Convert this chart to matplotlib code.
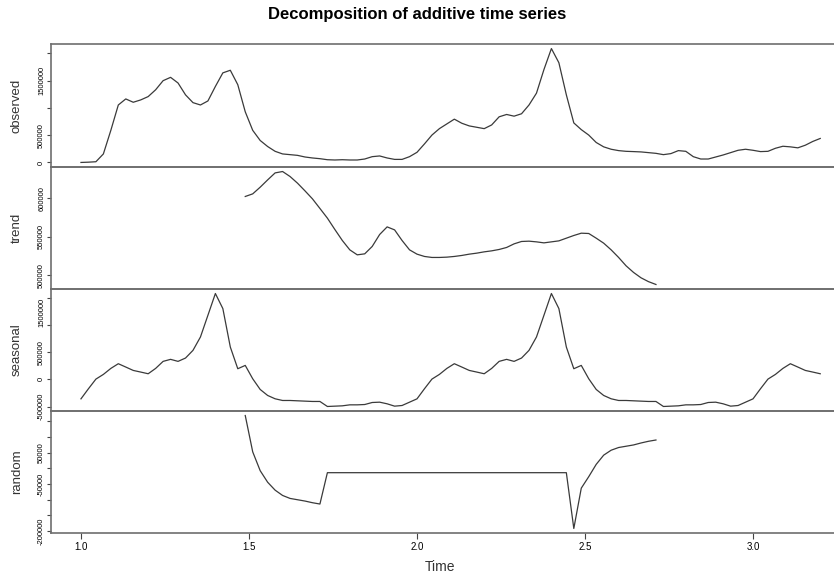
import numpy as np
import matplotlib
matplotlib.use('Agg')
import matplotlib.pyplot as plt

plt.rcParams['font.family'] = ['Liberation Sans', 'DejaVu Sans']

# ts settings: starts at 1.0, 45 obs per unit
start = 1.0
freq = 45
trend_start = 22

observed = [0, 5000, 13000, 156000, 589000, 1054000, 1165000, 1104000, 1147000, 1208000,
            1333000, 1500000, 1561000, 1457000, 1240000, 1097000, 1054000, 1128000, 1394000, 1643000,
            1691000, 1426000, 929000, 589000, 403000, 292000, 204000, 156000, 143000, 130000,
            100000, 82000, 69000, 50000, 45000, 50000, 45000, 45000, 63000, 106000,
            119000, 82000, 56000, 56000, 106000, 186000, 340000, 502000, 620000, 707000,
            794000, 719000, 670000, 645000, 620000, 688000, 837000, 880000, 849000, 893000,
            1054000, 1271000, 1704000, 2089000, 1829000, 1240000, 725000, 602000, 502000, 366000,
            286000, 242000, 217000, 204000, 199000, 193000, 180000, 167000, 143000, 162000,
            217000, 204000, 106000, 63000, 63000, 100000, 137000, 180000, 223000, 242000,
            223000, 199000, 204000, 260000, 297000, 286000, 268000, 316000, 385000, 440000]

trend = [602600, 606000, 614700, 624200, 633300, 635100, 628600, 619900, 609900, 599500,
         587000, 574400, 559600, 545300, 533100, 526600, 527900, 537500, 553100, 563000,
         559100, 545300, 533100, 527500, 524500, 523200, 523200, 523600, 524500, 525800,
         527500, 528800, 530500, 531800, 533600, 536200, 540900, 544000, 544400, 543500,
         542200, 543500, 544800, 548300, 551800, 554800, 554400, 548300, 541800, 533100,
         523200, 512300, 503700, 496700, 491700, 488000]

seasonal = [-356000, -171000, 6000, 92000, 202000, 288000, 227000, 165000, 135000, 104000,
            202000, 331000, 368000, 331000, 392000, 533000, 778000, 1176000, 1575000, 1299000,
            594000, 196000, 257000, 12000, -184000, -294000, -355000, -386000, -386000, -392000,
            -398000, -404000, -404000, -496000, -490000, -484000, -466000, -466000, -460000, -423000,
            -417000, -447000, -490000, -478000, -417000,
            -356000, -171000, 6000, 92000, 202000, 288000, 227000, 165000, 135000, 104000,
            202000, 331000, 368000, 331000, 392000, 533000, 778000, 1176000, 1575000, 1299000,
            594000, 196000, 257000, 12000, -184000, -294000, -355000, -386000, -386000, -392000,
            -398000, -404000, -404000, -496000, -490000, -484000, -466000, -466000, -460000, -423000,
            -417000, -447000, -490000, -478000, -417000,
            -356000, -171000, 6000, 92000, 202000, 288000, 227000, 165000, 135000, 104000]

random_part = [168700, 52600, -7500, -44400, -69700, -86600, -96100, -100300, -104500, -109800,
               -114000, -13900, -13900, -13900, -13900, -13900, -13900, -13900, -13900, -13900,
               -13900, -13900, -13900, -13900, -13900, -13900, -13900, -13900, -13900, -13900,
               -13900, -13900, -13900, -13900, -13900, -13900, -13900, -13900, -13900, -13900,
               -13900, -13900, -13900, -13900, -192100, -63300, -26600, 12700, 42100, 57900,
               66500, 70600, 74700, 81000, 86400, 90500]

panel_names = ['observed', 'trend', 'seasonal', 'random']
panel_ticks = [[0, 500000, 1000000, 1500000, 2000000],
               [500000, 550000, 600000],
               [-500000, 0, 500000, 1000000, 1500000],
               [-200000, -150000, -100000, -50000, 0, 50000, 100000, 150000]]
panel_ticklabels = [['0', '500000', '', '1500000', ''],
                    ['500000', '550000', '600000'],
                    ['-500000', '0', '500000', '', '1500000'],
                    ['-200000', '', '', '-50000', '', '50000', '', '']]
xticks = [1.0, 1.5, 2.0, 2.5, 3.0]
xticklabels = ['1.0', '1.5', '2.0', '2.5', '3.0']

times = start + np.arange(len(observed)) / freq
t_inner = times[trend_start:trend_start + len(trend)]
series = [(times, observed), (t_inner, trend), (times, seasonal), (t_inner, random_part)]

W, H = 834.0, 575.0
fig = plt.figure(figsize=(W / 100, H / 100), dpi=100)

# panel edges in pixels (top of first, then each bottom)
edges = [44, 167, 289, 411, 533]
left = 51.4 / W
width = (849.8 - 51.4) / W
xpad = 0.04 * (times[-1] - times[0])

line_col = '#3a3a3a'
frame_col = '#6e6e6e'

axes = []
for k in range(4):
    top, bot = edges[k], edges[k + 1]
    ax = fig.add_axes([left, 1 - bot / H, width, (bot - top) / H])
    x, y = series[k]
    ax.plot(x, y, color=line_col, lw=0.9)
    ax.set_xlim(times[0] - xpad, times[-1] + xpad)
    lo, hi = min(y), max(y)
    ax.set_ylim(lo - 0.04 * (hi - lo), hi + 0.04 * (hi - lo))
    ax.set_yticks(panel_ticks[k])
    ax.set_yticklabels(panel_ticklabels[k])
    for lab in ax.get_yticklabels():
        lab.set_rotation(90)
        lab.set_va('center')
    ax.tick_params(axis='y', length=3, width=0.8, color='#444444', labelsize=5.5, pad=1.5)
    for sp in ax.spines.values():
        sp.set_color(frame_col)
        sp.set_linewidth(1.2)
    ax.set_facecolor('none')
    fig.text(17 / W, 1 - (top + bot) / 2 / H, panel_names[k], rotation=90,
             ha='center', va='center', fontsize=9.5, color='#333333')
    if k < 3:
        ax.tick_params(axis='x', bottom=False, labelbottom=False)
    else:
        ax.set_xticks(xticks)
        ax.set_xticklabels(xticklabels)
        ax.tick_params(axis='x', length=4, width=0.8, color='#444444', labelsize=7, pad=2.5)
    axes.append(ax)

# seasonal top label would hit the trend one at the shared border: hang it below its tick
axes[2].get_yticklabels()[-1].set_va('top')

fig.text(0.5, 1 - 15 / H, 'Decomposition of additive time series', ha='center', va='center',
         fontsize=12, fontweight='bold')
fig.text(440 / W, 1 - 567 / H, 'Time', ha='center', va='center', fontsize=10, color='#333333')

fig.savefig('out.png', dpi=100)
